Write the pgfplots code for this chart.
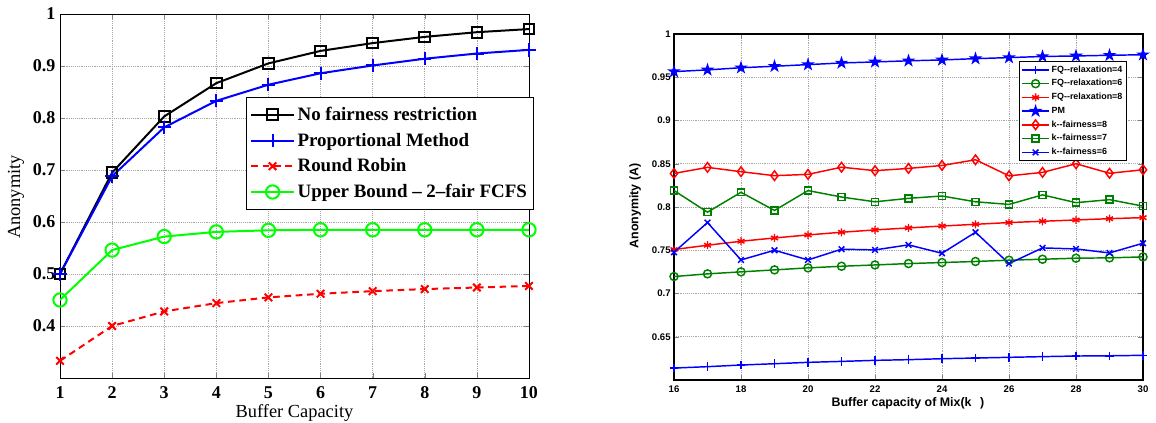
\documentclass[border=0pt]{standalone}
\usepackage{fontspec}
\setmainfont{Liberation Serif}
\newfontfamily\hel{Liberation Sans}
\usepackage{pgfplots}
\pgfplotsset{compat=1.18}
\definecolor{mgreen}{rgb}{0,0.5,0}
\pgfdeclareplotmark{pentagram}{%
  \pgfpathmoveto{\pgfpointpolar{90}{\pgfplotmarksize}}%
  \pgfpathlineto{\pgfpointpolar{54}{0.382\pgfplotmarksize}}%
  \pgfpathlineto{\pgfpointpolar{18}{\pgfplotmarksize}}%
  \pgfpathlineto{\pgfpointpolar{-18}{0.382\pgfplotmarksize}}%
  \pgfpathlineto{\pgfpointpolar{-54}{\pgfplotmarksize}}%
  \pgfpathlineto{\pgfpointpolar{-90}{0.382\pgfplotmarksize}}%
  \pgfpathlineto{\pgfpointpolar{-126}{\pgfplotmarksize}}%
  \pgfpathlineto{\pgfpointpolar{-162}{0.382\pgfplotmarksize}}%
  \pgfpathlineto{\pgfpointpolar{162}{\pgfplotmarksize}}%
  \pgfpathlineto{\pgfpointpolar{126}{0.382\pgfplotmarksize}}%
  \pgfpathclose\pgfusepathqfillstroke}
\begin{document}
\begin{tikzpicture}
\useasboundingbox (0,0) rectangle (867pt,317.25pt);
% ---------------- left axis
\begin{axis}[
  at={(45pt,33.75pt)}, anchor=south west,
  scale only axis, width=351.75pt, height=273pt,
  xmin=1, xmax=10, ymin=0.3, ymax=1,
  xtick={1,2,...,10}, ytick={0.4,0.5,0.6,0.7,0.8,0.9,1},
  tick align=inside, major tick length=4pt,
  axis line style={line width=0.7pt},
  grid=major, major grid style={densely dotted, gray!70, line width=0.5pt},
  /pgf/number format/assume math mode=true,
  ticklabel style={font=\bfseries\fontsize{13.5}{14}\selectfont},
  xticklabel style={yshift=-3pt},
  xlabel={Buffer Capacity},
  ylabel={Anonymity},
  label style={font=\fontsize{13.8}{15}\selectfont},
  xlabel style={at={(axis description cs:0.5,-0.096)}, anchor=center},
  ylabel style={at={(axis description cs:-0.094,0.497)}, anchor=center},
  legend style={at={(1.0107,0.772)}, anchor=north east, draw=black, line width=0.6pt,
    font=\bfseries\fontsize{14.2}{15}\selectfont, inner xsep=3pt, inner ysep=5.3pt,
    row sep=3.9pt, nodes={inner sep=2pt}},
  legend cell align=left,
  legend image code/.code={\draw[mark repeat=2,mark phase=2] plot coordinates {(0pt,0pt) (16pt,0pt) (32pt,0pt)};},
  every axis plot/.append style={line width=1.5pt},
]
\addplot[black, mark=square, mark size=4pt, mark options={solid}] coordinates {
(1,0.5) (2,0.695) (3,0.803) (4,0.867) (5,0.905) (6,0.929) (7,0.944) (8,0.956) (9,0.965) (10,0.971)};
\addlegendentry{No fairness restriction}
\addplot[blue, mark=+, mark size=5pt, mark options={solid}] coordinates {
(1,0.5) (2,0.688) (3,0.782) (4,0.833) (5,0.864) (6,0.886) (7,0.901) (8,0.914) (9,0.924) (10,0.931)};
\addlegendentry{Proportional Method}
\addplot[red, dash pattern=on 5pt off 3.5pt, mark=x, mark size=4pt, mark options={solid}] coordinates {
(1,0.333) (2,0.4) (3,0.428) (4,0.444) (5,0.455) (6,0.462) (7,0.467) (8,0.471) (9,0.474) (10,0.477)};
\addlegendentry{Round Robin}
\addplot[green, mark=o, mark size=5pt, mark options={solid}] coordinates {
(1,0.45) (2,0.546) (3,0.572) (4,0.581) (5,0.584) (6,0.585) (7,0.585) (8,0.585) (9,0.585) (10,0.585)};
\addlegendentry{Upper Bound -- 2--fair FCFS}
\end{axis}
% ---------------- right axis
\begin{axis}[
  at={(505.5pt,32.25pt)}, anchor=south west,
  scale only axis, width=351.75pt, height=259.5pt,
  xmin=16, xmax=30, ymin=0.6, ymax=1,
  xtick={16,18,...,30}, ytick={0.65,0.7,0.75,0.8,0.85,0.9,0.95,1},
  tick align=inside, major tick length=3.5pt,
  axis line style={line width=1pt},
  grid=major, major grid style={densely dotted, gray!70, line width=0.5pt},
  /pgf/number format/assume math mode=true,
  ticklabel style={font=\hel\bfseries\fontsize{7.2}{8}\selectfont},
  xticklabel style={yshift=-1pt},
  yticklabel style={xshift=1pt},
  xlabel={Buffer capacity of Mix(k\hspace{0.7em})},
  ylabel={Anonymity (A)},
  label style={font=\hel\bfseries\fontsize{9.3}{10}\selectfont},
  xlabel style={at={(axis description cs:0.499,-0.066)}, anchor=center},
  ylabel style={at={(axis description cs:-0.083,0.503)}, anchor=center},
  legend style={at={(0.966,0.922)}, anchor=north east, draw=black, line width=1pt,
    font=\hel\bfseries\fontsize{6.7}{7.5}\selectfont, inner sep=1.5pt,
    row sep=1pt, nodes={inner sep=1.5pt}},
  legend cell align=left,
  legend image code/.code={\draw[mark repeat=2,mark phase=2] plot coordinates {(0pt,0pt) (10pt,0pt) (20pt,0pt)};},
  every axis plot/.append style={line width=1.1pt},
]
\addplot[blue, mark=+, mark size=3.2pt] coordinates {
(16,0.6138) (17,0.6154) (18,0.6173) (19,0.6188) (20,0.6204) (21,0.6215) (22,0.6227) (23,0.6235) (24,0.6246) (25,0.6254) (26,0.6262) (27,0.627) (28,0.6277) (29,0.628) (30,0.6285)};
\addlegendentry{FQ--relaxation=4}
\addplot[mgreen, mark=o, mark size=3pt] coordinates {
(16,0.7196) (17,0.7227) (18,0.725) (19,0.7273) (20,0.7296) (21,0.7315) (22,0.733) (23,0.7346) (24,0.7358) (25,0.737) (26,0.7385) (27,0.7396) (28,0.7408) (29,0.7412) (30,0.7423)};
\addlegendentry{FQ--relaxation=6}
\addplot[red, mark=asterisk, mark size=3pt] coordinates {
(16,0.7508) (17,0.7558) (18,0.7604) (19,0.7642) (20,0.7677) (21,0.7708) (22,0.7735) (23,0.7758) (24,0.778) (25,0.78) (26,0.782) (27,0.7835) (28,0.785) (29,0.7865) (30,0.7877)};
\addlegendentry{FQ--relaxation=8}
\addplot[blue, mark=pentagram, mark size=3.6pt, mark options={fill=blue}] coordinates {
(16,0.9565) (17,0.9585) (18,0.961) (19,0.9627) (20,0.9646) (21,0.9665) (22,0.9677) (23,0.969) (24,0.970) (25,0.9715) (26,0.9727) (27,0.974) (28,0.9746) (29,0.9754) (30,0.976)};
\addlegendentry{PM}
\addplot[red, mark=diamond, mark size=3.6pt] coordinates {
(16,0.8388) (17,0.8458) (18,0.8408) (19,0.8362) (20,0.8377) (21,0.846) (22,0.842) (23,0.8446) (24,0.848) (25,0.8546) (26,0.836) (27,0.84) (28,0.85) (29,0.839) (30,0.843)};
\addlegendentry{k--fairness=8}
\addplot[mgreen, mark=square, mark size=2.6pt] coordinates {
(16,0.819) (17,0.794) (18,0.817) (19,0.796) (20,0.819) (21,0.8115) (22,0.806) (23,0.810) (24,0.8127) (25,0.806) (26,0.803) (27,0.814) (28,0.805) (29,0.8085) (30,0.801)};
\addlegendentry{k--fairness=7}
\addplot[blue, mark=x, mark size=3pt] coordinates {
(16,0.7477) (17,0.782) (18,0.7388) (19,0.75) (20,0.7388) (21,0.7512) (22,0.7504) (23,0.7562) (24,0.7465) (25,0.7708) (26,0.7346) (27,0.7527) (28,0.7515) (29,0.7469) (30,0.7581)};
\addlegendentry{k--fairness=6}
\end{axis}
\end{tikzpicture}
\end{document}
